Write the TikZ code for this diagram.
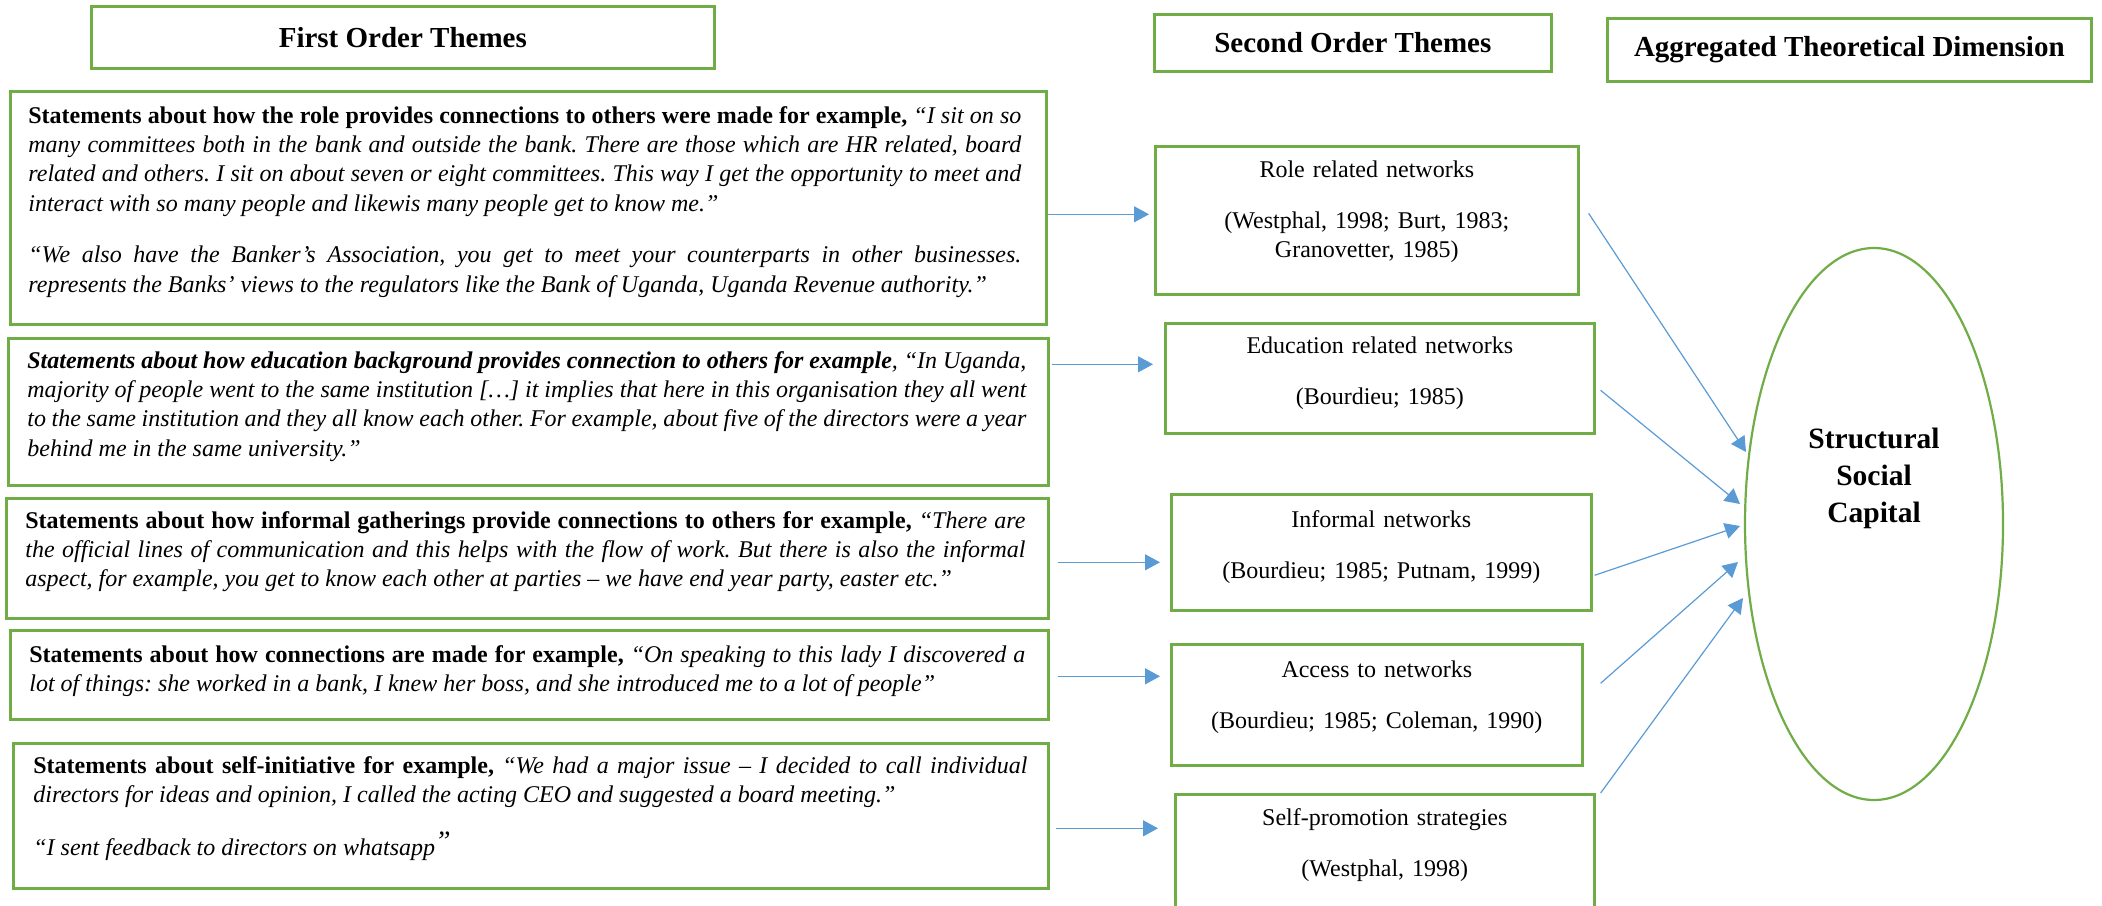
\documentclass[tikz,border=0pt]{standalone}
\usepackage{fontspec}
\setmainfont{Liberation Serif}
\usetikzlibrary{shapes.geometric,arrows.meta,calc}
\definecolor{bxgreen}{HTML}{70AD47}
\definecolor{arblue}{HTML}{5B9BD5}
\hyphenpenalty=10000
\exhyphenpenalty=10000
\tolerance=3000
\emergencystretch=2em
\frenchspacing
\begin{document}
\begin{tikzpicture}[x=0.5pt,y=-0.5pt,
  frame/.style={draw=bxgreen, line width=1.3pt, rectangle, inner sep=0pt, anchor=north west},
  head/.style={font=\fontsize{14.5}{17}\selectfont\bfseries},
  lefttext/.style={anchor=base west, inner sep=0pt, align=justify, font=\fontsize{12}{14.7}\selectfont},
  righttext/.style={anchor=base, inner sep=0pt, align=center, text width=200pt, font=\fontsize{12}{14.7}\selectfont},
  arr/.style={color=arblue, line width=0.6pt, -{Triangle[length=7.5pt,width=8pt]}}
]
\clip (0,0) rectangle (2102,905);
\fill[white] (0,0) rectangle (2102,905);

% headers
\node[frame, head, minimum width=311.5pt, minimum height=31pt] (h1) at (90,5) {First Order Themes};
\node[frame, head, minimum width=198.5pt, minimum height=28.5pt] (h2) at (1153,13) {Second Order Themes};
\node[frame, head, minimum width=242pt, minimum height=31.5pt] (h3) at (1606,17) {Aggregated Theoretical Dimension};

% left boxes
\node[frame, minimum width=518pt, minimum height=116.5pt] (l1) at (9,90) {};
\node[frame, minimum width=520pt, minimum height=73.5pt] (l2) at (7,337) {};
\node[frame, minimum width=521pt, minimum height=60pt] (l3) at (5,497) {};
\node[frame, minimum width=519pt, minimum height=44.5pt] (l4) at (9,629) {};
\node[frame, minimum width=517.5pt, minimum height=72.5pt] (l5) at (12,742) {};

\node[lefttext, text width=496.5pt] (t1) at ($(l1.north west)+(19,33)$) {\textbf{Statements about how the role provides connections to others were made for example,} \textit{“I sit on so many committees both in the bank and outside the bank. There are those which are HR related, board related and others. I sit on about seven or eight committees. This way I get the opportunity to meet and interact with so many people and likewis many people get to know me.”}\par\vspace{11pt}
\textit{“We also have the Banker’s Association, you get to meet your counterparts in other businesses.\linebreak represents the Banks’ views to the regulators like the Bank of Uganda, Uganda Revenue authority.”}};

\node[lefttext, text width=499.5pt] (t2) at ($(l2.north west)+(20,31)$) {\textbf{\textit{Statements about how education background provides connection to others for example}}\textit{, “In Uganda, majority of people went to the same institution […] it implies that here in this organisation they all went to the same institution and they all know each other. For example, about five of the directors were a year behind me in the same university.”}};

\node[lefttext, text width=500pt] (t3) at ($(l3.north west)+(20,31)$) {\textbf{Statements about how informal gatherings provide connections to others for example,} \textit{“There are the official lines of communication and this helps with the flow of work. But there is also the informal aspect, for example, you get to know each other at parties – we have end year party, easter etc.”}};

\node[lefttext, text width=498pt] (t4) at ($(l4.north west)+(20,33)$) {\textbf{Statements about how connections are made for example,} \textit{“On speaking to this lady I discovered a lot of things: she worked in a bank, I knew her boss, and she introduced me to a lot of people”}};

\node[lefttext, text width=497pt] (t5) at ($(l5.north west)+(21,31)$) {\textbf{Statements about self-initiative for example,} \textit{“We had a major issue – I decided to call individual directors for ideas and opinion, I called the acting CEO and suggested a board meeting.”}\par\vspace{12pt}
\textit{“I sent feedback to directors on whatsapp}\raisebox{2.5pt}{\fontsize{14}{14}\selectfont\textit{”}}};

% right boxes
\node[frame, minimum width=211.5pt, minimum height=74pt] (r1) at (1154,145) {};
\node[frame, minimum width=214.5pt, minimum height=55pt] (r2) at (1164,322) {};
\node[frame, minimum width=210pt, minimum height=58pt] (r3) at (1170,493) {};
\node[frame, minimum width=205.5pt, minimum height=60.5pt] (r4) at (1170,643) {};
\node[frame, minimum width=209.5pt, minimum height=65pt] (r5) at (1174,793) {};

\node[righttext] (rt1) at ($(r1.north)+(0,32)$) {Role related networks\\[11pt](Westphal, 1998; Burt, 1983;\\Granovetter, 1985)};
\node[righttext] (rt2) at ($(r2.north)+(0,31)$) {Education related networks\\[11pt](Bourdieu; 1985)};
\node[righttext] (rt3) at ($(r3.north)+(0,34)$) {Informal networks\\[11pt](Bourdieu; 1985; Putnam, 1999)};
\node[righttext] (rt4) at ($(r4.north)+(0,34)$) {Access to networks\\[11pt](Bourdieu; 1985; Coleman, 1990)};
\node[righttext] (rt5) at ($(r5.north)+(0,32)$) {Self-promotion strategies\\[11pt](Westphal, 1998)};

% ellipse
\node[draw=bxgreen, line width=1.1pt, ellipse, minimum width=129pt, minimum height=276pt, inner sep=0pt] (e) at (1874,524) {};
\node[anchor=base, inner sep=0pt, align=center, font=\fontsize{14.75}{18.5}\selectfont\bfseries] (et) at ($(e.center)+(0,-2)$) {Structural\\Social\\Capital};

% horizontal arrows
\coordinate (p1) at ($(r1.west)+(-5,-6)$);
\coordinate (p2) at ($(r2.west)+(-11,-14)$);
\coordinate (p3) at ($(r3.west)+(-10,10)$);
\coordinate (p4) at ($(r4.west)+(-10,-28.5)$);
\coordinate (p5) at ($(r5.west)+(-16,-31)$);
\draw[arr] (l1.east |- p1) -- (p1);
\draw[arr] ($(l2.east |- p2)+(2,0)$) -- (p2);
\draw[arr] ($(l3.east |- p3)+(8,0)$) -- (p3);
\draw[arr] ($(l4.east |- p4)+(8,0)$) -- (p4);
\draw[arr] ($(l5.east |- p5)+(6,0)$) -- (p5);

% diagonal arrows
\coordinate (s1) at ($(r1.east)+(9,-7)$);
\coordinate (s2) at ($(r2.east)+(5,12)$);
\coordinate (s3) at ($(r3.east)+(2,23)$);
\coordinate (s4) at ($(r4.east)+(17,-21.5)$);
\coordinate (s5) at ($(r5.north east)+(5,0)$);
\coordinate (d1) at ($(e.center)+(-128,-72)$);
\coordinate (d2) at ($(e.center)+(-134,-20)$);
\coordinate (d3) at ($(e.center)+(-134,2)$);
\coordinate (d4) at ($(e.center)+(-136,38)$);
\coordinate (d5) at ($(e.center)+(-131,74)$);
\draw[arr] (s1) -- (d1);
\draw[arr] (s2) -- (d2);
\draw[arr] (s3) -- (d3);
\draw[arr] (s4) -- (d4);
\draw[arr] (s5) -- (d5);
\end{tikzpicture}
\end{document}
